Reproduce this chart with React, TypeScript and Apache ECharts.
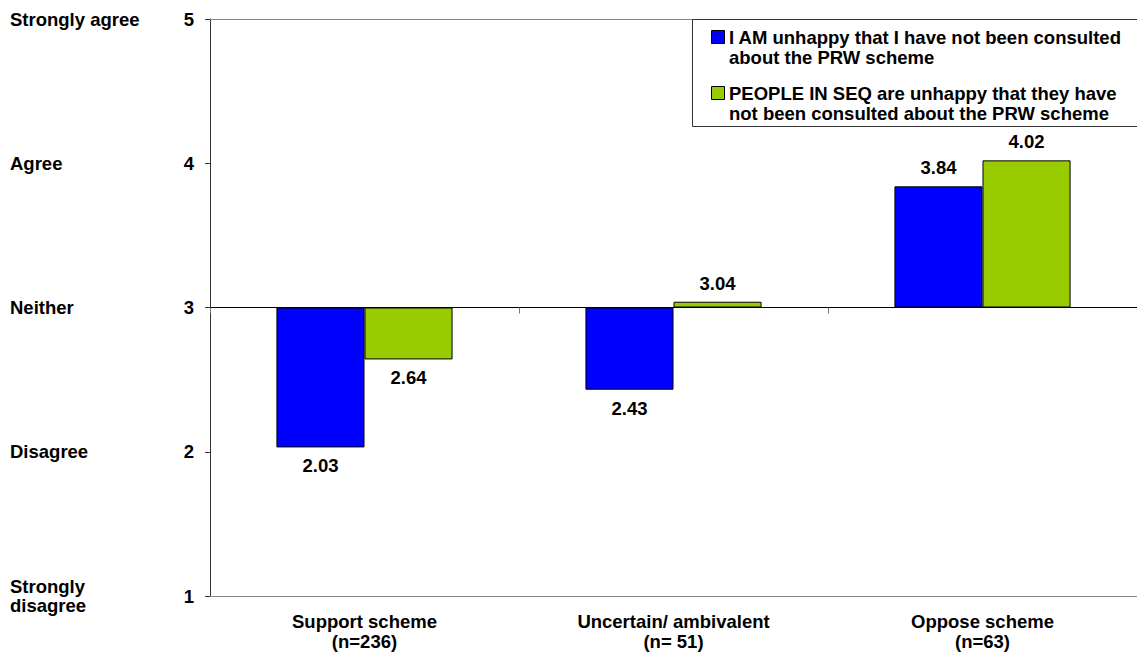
import React, { useEffect, useRef } from "react";
import * as echarts from "echarts";

const categories = ["Support scheme\n(n=236)", "Uncertain/ ambivalent\n(n= 51)", "Oppose scheme\n(n=63)"];
const seriesNames = [
  "I AM unhappy that I have not been consulted about the PRW scheme",
  "PEOPLE IN SEQ are unhappy that they have not been consulted about the PRW scheme",
];
const legendLines = [
  ["I AM unhappy that I have not been consulted", "about the PRW scheme"],
  ["PEOPLE IN SEQ are unhappy that they have", "not been consulted about the PRW scheme"],
];
const selfValues = [2.03, 2.43, 3.84];
const peopleValues = [2.64, 3.04, 4.02];
const colors = ["#0000FF", "#99CC00"];
const scaleLabels = ["Strongly\ndisagree", "Disagree", "Neither", "Agree", "Strongly agree"];
const neutral = 3;

const FONT = "'Liberation Sans', Arial, sans-serif";
const FS = 18.5;

export default function App() {
  const ref = useRef<HTMLDivElement>(null);
  useEffect(() => {
    if (!ref.current) return;
    const chart = echarts.init(ref.current, undefined, { renderer: "svg" });
    const baseTop = 19;
    const gridBottomPx = 596;
    const mid = baseTop + (gridBottomPx - baseTop) / 2;

    const makeSeries = (vals: number[], idx: number, stack: string) => [
      {
        type: "bar",
        stack,
        silent: true,
        barWidth: "28.5%",
        barGap: "0%",
        itemStyle: { color: "transparent", borderWidth: 0 },
        data: vals.map((v) => Math.min(v, neutral)),
        label: { show: false },
      },
      {
        type: "bar",
        name: seriesNames[idx],
        stack,
        barWidth: "28.5%",
        barGap: "0%",
        itemStyle: { color: colors[idx], borderColor: "#000", borderWidth: 1 },
        data: vals.map((v) => ({
          value: Math.abs(v - neutral),
          label: {
            show: true,
            position: v >= neutral ? "top" : "bottom",
            distance: 9,
            formatter: () => v.toFixed(2),
            fontFamily: FONT,
            fontWeight: "bold",
            fontSize: FS,
            color: "#000",
          },
        })),
      },
    ];

    const legendGraphic: any[] = [
      {
        type: "rect",
        shape: { x: 692.5, y: 19.5, width: 480, height: 107 },
        style: { fill: "#fff", stroke: "#333", lineWidth: 1 },
        z: 10,
      },
    ];
    legendLines.forEach((lines, i) => {
      const y0 = 37 + i * 56;
      legendGraphic.push({
        type: "rect",
        shape: { x: 711.5, y: y0 - 6.5, width: 13, height: 13 },
        style: { fill: colors[i], stroke: "#000", lineWidth: 1 },
        z: 11,
      });
      legendGraphic.push({
        type: "text",
        x: 729,
        y: y0 - 10,
        z: 11,
        style: {
          text: lines.join("\n"),
          font: `bold ${FS}px ${FONT}`,
          fill: "#000",
          lineHeight: 20,
          verticalAlign: "top",
          align: "left",
        },
      });
    });

    chart.setOption({
      animation: false,
      grid: { left: 210, right: 0, top: baseTop, bottom: 659 - gridBottomPx },
      xAxis: [
        {
          type: "category",
          data: categories,
          position: "bottom",
          axisLine: { show: true, lineStyle: { color: "#888", width: 1 } },
          axisTick: { show: false },
          axisLabel: {
            fontFamily: FONT,
            fontWeight: "bold",
            fontSize: FS,
            color: "#000",
            lineHeight: 20,
            margin: 15,
          },
        },
        {
          type: "category",
          data: categories,
          position: "top",
          offset: -(mid - baseTop),
          axisLine: { show: true, lineStyle: { color: "#000", width: 1 } },
          axisTick: { show: true, inside: true, length: 6, lineStyle: { color: "#777" } },
          axisLabel: { show: false },
        },
        {
          type: "category",
          data: categories,
          position: "top",
          offset: 0,
          axisLine: { show: true, lineStyle: { color: "#888", width: 1 } },
          axisTick: { show: false },
          axisLabel: { show: false },
        },
      ],
      yAxis: [
        {
          type: "value",
          min: 1,
          max: 5,
          interval: 1,
          axisLine: { show: true, lineStyle: { color: "#333" } },
          axisTick: { show: true, length: 5, lineStyle: { color: "#333" } },
          splitLine: { show: false },
          axisLabel: {
            fontFamily: FONT,
            fontWeight: "bold",
            fontSize: FS,
            color: "#000",
            margin: 16,
          },
        },
        {
          type: "value",
          min: 1,
          max: 5,
          interval: 1,
          position: "left",
          offset: 192,
          axisLine: { show: false },
          axisTick: { show: false },
          splitLine: { show: false },
          axisLabel: {
            align: "left",
            margin: 8,
            fontFamily: FONT,
            fontWeight: "bold",
            fontSize: FS,
            color: "#000",
            lineHeight: 19,
            formatter: (v: number) => scaleLabels[Math.round(v) - 1] ?? "",
          },
        },
      ],
      series: [...makeSeries(selfValues, 0, "self"), ...makeSeries(peopleValues, 1, "people")],
      graphic: legendGraphic,
    });
    return () => chart.dispose();
  }, []);
  return (
    <div
      ref={ref}
      style={{ position: "fixed", left: 0, top: 0, width: 1137, height: 659, background: "#fff" }}
    />
  );
}
